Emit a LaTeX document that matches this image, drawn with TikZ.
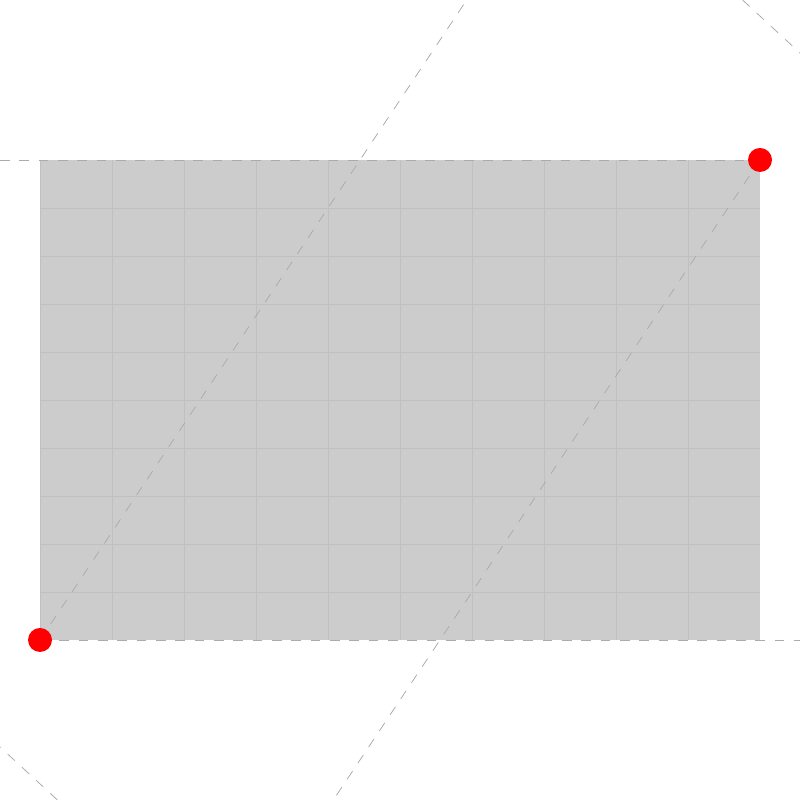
\documentclass[tikz,border=0pt]{standalone}
\usepackage{tikz}

\definecolor{sheetgray}{HTML}{CCCCCC}
\definecolor{rulegray}{HTML}{C0C0C0}
\definecolor{guidegray}{HTML}{ABABAB}

\tikzset{
    sheet/.style={fill=sheetgray, draw=none},
    rule/.style={draw=rulegray, line width=0.5pt},
    guide/.style={draw=guidegray, line width=0.45pt, dash pattern=on 5.5pt off 5.5pt},
    anchordot/.style={circle, fill=red, draw=none, minimum size=0.48cm, inner sep=0pt}
}

\begin{document}
\begin{tikzpicture}[x=1.44cm, y=0.96cm]
        \useasboundingbox (-0.5556,-3.3333) rectangle (10.5556,13.3333);
        % sheet with grid
        \fill [sheet] (0, 0) rectangle (10, 10);
        \foreach \i in {1,...,9} {
            \draw [rule] (\i, 0) -- (\i, 10);
            \draw [rule] (0, \i) -- (10, \i);
        }
        \draw [rule] (0, 0) -- (0, 10);

        % corner points
        \coordinate (low) at (0, 0);
        \coordinate (high) at (10, 10);
        \coordinate (leftend) at (-0.5556, 10);
        \coordinate (rightend) at (10.5556, 0);
        \coordinate (topend) at (5.9259, 13.3333);
        \coordinate (bottomend) at (4.0741, -3.3333);

        % guides
        \draw [guide] (leftend) -- (high);
        \draw [guide] (low) -- (rightend);
        \draw [guide] (low) -- (topend);
        \draw [guide] (high) -- (bottomend);
        \draw [guide] (9.758, 13.3333) -- (10.5556, 12.229);
        \draw [guide] (0.242, -3.3333) -- (-0.5556, -2.229);

        \node [anchordot] (lowdot) at (low) {};
        \node [anchordot] (highdot) at (high) {};
    \end{tikzpicture}
\end{document}
